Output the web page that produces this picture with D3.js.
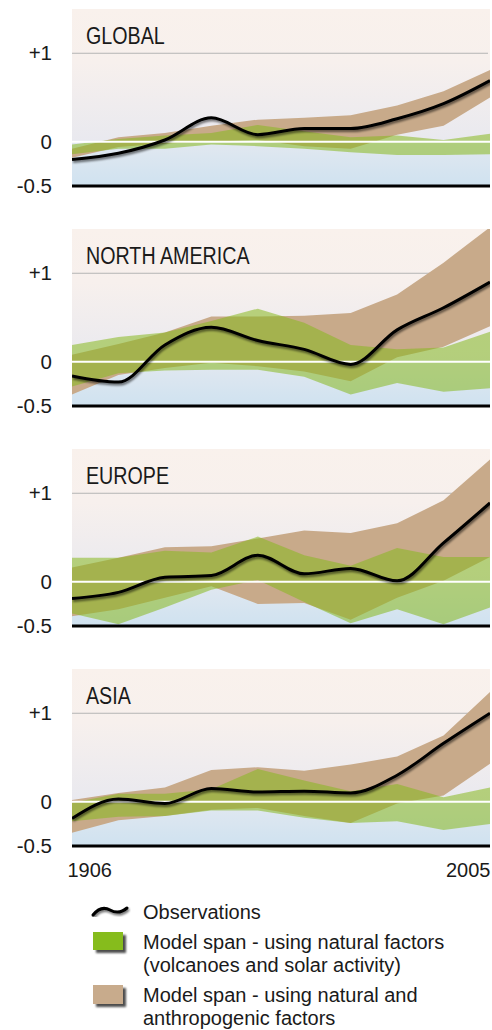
<!DOCTYPE html>
<html>
<head>
<meta charset="utf-8">
<script src="https://cdn.jsdelivr.net/npm/d3@7"></script>
<style>
  body { margin: 0; background: #fff; }
  text { font-family: "Liberation Sans", Arial, sans-serif; fill: #1a1a1a; }
  .title { font-size: 24px; }
</style>
</head>
<body>
<svg id="chart" width="492" height="1030"></svg>
<script>
// decadal sample points, 1906 .. 2005
const years = [1906, 1917, 1928, 1939, 1950, 1961, 1972, 1983, 1994, 2005];
const regions = ["GLOBAL", "NORTH AMERICA", "EUROPE", "ASIA"];
const yTicks = [-0.5, 0, 1];
const yearLabels = [1906, 2005];

// temperature anomaly (deg C)
const globalObs   = [-0.20, -0.13, 0.02, 0.27, 0.08, 0.15, 0.15, 0.26, 0.43, 0.69];
const globalAllHi = [-0.08, 0.05, 0.10, 0.18, 0.25, 0.27, 0.30, 0.41, 0.57, 0.81];
const globalAllLo = [-0.18, -0.06, -0.02, 0.00, 0.02, -0.05, -0.08, 0.08, 0.18, 0.50];
const globalNatHi = [-0.03, 0.03, 0.07, 0.10, 0.19, 0.12, 0.05, 0.07, 0.02, 0.09];
const globalNatLo = [-0.14, -0.08, -0.08, -0.03, -0.05, -0.08, -0.12, -0.15, -0.15, -0.14];

const naObs   = [-0.16, -0.23, 0.19, 0.39, 0.24, 0.14, -0.03, 0.36, 0.61, 0.90];
const naAllHi = [0.08, 0.20, 0.33, 0.51, 0.51, 0.52, 0.55, 0.76, 1.12, 1.52];
const naAllLo = [-0.37, -0.15, -0.07, -0.01, -0.05, -0.11, -0.22, 0.05, 0.17, 0.40];
const naNatHi = [0.19, 0.28, 0.33, 0.46, 0.60, 0.44, 0.19, 0.14, 0.16, 0.34];
const naNatLo = [-0.28, -0.13, -0.10, -0.09, -0.09, -0.17, -0.37, -0.24, -0.34, -0.30];

const euObs   = [-0.19, -0.12, 0.05, 0.07, 0.30, 0.09, 0.15, 0.01, 0.44, 0.89];
const euAllHi = [0.16, 0.27, 0.39, 0.40, 0.49, 0.58, 0.55, 0.66, 0.92, 1.38];
const euAllLo = [-0.39, -0.31, -0.18, -0.05, -0.25, -0.24, -0.43, -0.18, 0.01, 0.28];
const euNatHi = [0.27, 0.27, 0.35, 0.33, 0.51, 0.30, 0.18, 0.38, 0.28, 0.28];
const euNatLo = [-0.36, -0.48, -0.29, -0.09, 0.02, -0.23, -0.47, -0.31, -0.48, -0.29];

const asiaObs   = [-0.19, 0.03, -0.02, 0.15, 0.11, 0.12, 0.10, 0.30, 0.66, 1.00];
const asiaAllHi = [0.02, 0.10, 0.16, 0.36, 0.39, 0.35, 0.42, 0.51, 0.75, 1.24];
const asiaAllLo = [-0.35, -0.21, -0.16, -0.09, -0.07, -0.16, -0.24, -0.02, 0.07, 0.43];
const asiaNatHi = [-0.01, 0.09, 0.09, 0.14, 0.37, 0.24, 0.12, 0.20, 0.05, 0.16];
const asiaNatLo = [-0.22, -0.17, -0.16, -0.10, -0.10, -0.18, -0.24, -0.22, -0.32, -0.25];

const panels = [
  { name: regions[0], obs: globalObs, allLo: globalAllLo, allHi: globalAllHi, natLo: globalNatLo, natHi: globalNatHi },
  { name: regions[1], obs: naObs, allLo: naAllLo, allHi: naAllHi, natLo: naNatLo, natHi: naNatHi },
  { name: regions[2], obs: euObs, allLo: euAllLo, allHi: euAllHi, natLo: euNatLo, natHi: euNatHi },
  { name: regions[3], obs: asiaObs, allLo: asiaAllLo, allHi: asiaAllHi, natLo: asiaNatLo, natHi: asiaNatHi }
];

const legendLabels = [
  ["Observations"],
  ["Model span - using natural factors", "(volcanoes and solar activity)"],
  ["Model span - using natural and", "anthropogenic factors"]
];

const brown = "#c8aa8a";
const green = "#86b81e";

const svg = d3.select("#chart");
const panelTop = 9, panelStep = 220, panelH = 177;
const left = 72, right = 490;

const x = d3.scaleLinear().domain([years[0], years[years.length - 1]]).range([left, right]);
const y = d3.scaleLinear().domain([-0.5, 1.5]).range([panelH, 0]);

const defs = svg.append("defs");
const grad = defs.append("linearGradient")
  .attr("id", "bg").attr("x1", 0).attr("y1", 0).attr("x2", 0).attr("y2", 1);
grad.append("stop").attr("offset", 0).attr("stop-color", "#f9f1ec");
grad.append("stop").attr("offset", 0.3).attr("stop-color", "#f7f0ed");
grad.append("stop").attr("offset", 0.74).attr("stop-color", "#e9e9ef");
grad.append("stop").attr("offset", 0.75).attr("stop-color", "#e2e8f0");
grad.append("stop").attr("offset", 1).attr("stop-color", "#cfe2f0");

// soft shadow under the observation line
const shadow = defs.append("filter").attr("id", "shadow")
  .attr("x", "-10%").attr("y", "-20%").attr("width", "120%").attr("height", "140%");
shadow.append("feGaussianBlur").attr("in", "SourceAlpha").attr("stdDeviation", 1.3).attr("result", "b");
shadow.append("feOffset").attr("in", "b").attr("dx", 0.5).attr("dy", 1.5).attr("result", "o");
shadow.append("feComponentTransfer").attr("in", "o").attr("result", "s")
  .append("feFuncA").attr("type", "linear").attr("slope", 0.55);
const merge = shadow.append("feMerge");
merge.append("feMergeNode").attr("in", "s");
merge.append("feMergeNode").attr("in", "SourceGraphic");

const boxShadow = defs.append("filter").attr("id", "boxshadow")
  .attr("x", "-20%").attr("y", "-20%").attr("width", "150%").attr("height", "160%");
boxShadow.append("feGaussianBlur").attr("in", "SourceAlpha").attr("stdDeviation", 0.8).attr("result", "b");
boxShadow.append("feOffset").attr("in", "b").attr("dx", 2.5).attr("dy", 2.5).attr("result", "o");
boxShadow.append("feComponentTransfer").attr("in", "o").attr("result", "s")
  .append("feFuncA").attr("type", "linear").attr("slope", 0.7);
const merge2 = boxShadow.append("feMerge");
merge2.append("feMergeNode").attr("in", "s");
merge2.append("feMergeNode").attr("in", "SourceGraphic");

defs.append("clipPath").attr("id", "plotclip")
  .append("rect").attr("x", left).attr("y", 0).attr("width", right - left).attr("height", panelH);

const band = d3.area()
  .x((d, i) => x(years[i]))
  .y0(d => y(d[0]))
  .y1(d => y(d[1]));

const line = d3.line()
  .x((d, i) => x(years[i]))
  .y(d => y(d))
  .curve(d3.curveMonotoneX);

panels.forEach((p, k) => {
  const g = svg.append("g").attr("transform", `translate(0, ${panelTop + k * panelStep})`);

  g.append("rect")
    .attr("x", left).attr("y", 0)
    .attr("width", right - left).attr("height", panelH)
    .attr("fill", "url(#bg)");

  g.append("line")
    .attr("x1", left).attr("x2", right - 2)
    .attr("y1", y(1)).attr("y2", y(1))
    .attr("stroke", "#b4b4b4").attr("stroke-width", 1);

  const plot = g.append("g").attr("clip-path", "url(#plotclip)");

  plot.append("path")
    .datum(d3.zip(p.allLo, p.allHi))
    .attr("fill", brown)
    .attr("d", band);

  plot.append("path")
    .datum(d3.zip(p.natLo, p.natHi))
    .attr("fill", green)
    .attr("fill-opacity", 0.55)
    .attr("d", band);

  plot.append("line")
    .attr("x1", left).attr("x2", right)
    .attr("y1", y(0)).attr("y2", y(0))
    .attr("stroke", "#fff").attr("stroke-width", 2);

  plot.append("path")
    .datum(p.obs)
    .attr("fill", "none")
    .attr("stroke", "#000")
    .attr("stroke-width", 3)
    .attr("stroke-linejoin", "round")
    .attr("filter", "url(#shadow)")
    .attr("d", line);

  g.append("line")
    .attr("x1", left).attr("x2", right)
    .attr("y1", y(-0.5)).attr("y2", y(-0.5))
    .attr("stroke", "#000").attr("stroke-width", 3);

  // narrow title: squeeze Liberation Sans horizontally
  g.append("text")
    .attr("class", "title")
    .attr("transform", "translate(86, 35) scale(0.82, 1)")
    .text(p.name);

  const yAxis = d3.axisLeft(y)
    .tickValues(yTicks)
    .tickSize(0)
    .tickPadding(20)
    .tickFormat(d => d === 1 ? "+1" : d === 0 ? "0" : "-0.5");

  g.append("g")
    .attr("transform", `translate(${left}, 0)`)
    .call(yAxis)
    .call(a => a.select(".domain").remove())
    .selectAll("text")
    .style("font-family", '"Liberation Sans", Arial, sans-serif')
    .style("font-size", "20.5px")
    .attr("fill", "#1a1a1a");

  if (k === panels.length - 1) {
    const xAxis = d3.axisBottom(x).tickValues(yearLabels).tickSize(0).tickFormat(d3.format("d"));
    const ax = g.append("g")
      .attr("transform", `translate(0, ${panelH})`)
      .call(xAxis)
      .call(a => a.select(".domain").remove());
    ax.selectAll("text")
      .attr("dy", null)
      .attr("y", 31)
      .style("font-family", '"Liberation Sans", Arial, sans-serif')
      .style("font-size", "20px")
      .attr("fill", "#1a1a1a")
      .attr("text-anchor", (d, i) => i === 0 ? "start" : "end")
      .attr("dx", (d, i) => i === 0 ? -5 : 0);
  }
});

// legend
const lg = svg.append("g");
lg.append("path")
  .attr("d", "M93,915 Q101,905 110,910 T127,908")
  .attr("fill", "none").attr("stroke", "#000").attr("stroke-width", 3)
  .attr("stroke-linecap", "round")
  .attr("filter", "url(#shadow)");

lg.append("rect").attr("x", 93).attr("y", 932).attr("width", 30).attr("height", 18)
  .attr("fill", "#86bc1a").attr("filter", "url(#boxshadow)");
lg.append("rect").attr("x", 93).attr("y", 985).attr("width", 30).attr("height", 19)
  .attr("fill", "#c8ab8c").attr("filter", "url(#boxshadow)");

const legendBase = [919, 949, 1002];
legendLabels.forEach((lines, i) => {
  lines.forEach((s, j) => {
    lg.append("text")
      .attr("x", 143).attr("y", legendBase[i] + j * 22.5)
      .style("font-size", "20px")
      .text(s);
  });
});
</script>
</body>
</html>
